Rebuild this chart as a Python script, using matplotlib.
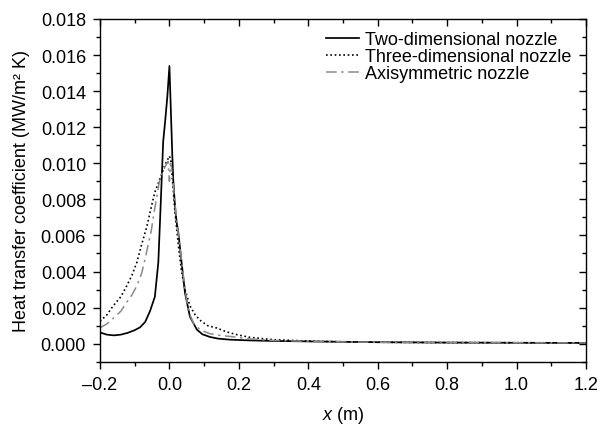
import matplotlib
matplotlib.use("Agg")
import matplotlib.pyplot as plt
from matplotlib.ticker import MultipleLocator, FuncFormatter

plt.rcParams['font.family'] = ['Liberation Sans', 'DejaVu Sans']
plt.rcParams['mathtext.fontset'] = 'custom'
plt.rcParams['mathtext.rm'] = 'Liberation Sans'
plt.rcParams['mathtext.it'] = 'Liberation Sans:italic'

# Two-dimensional nozzle
x_2d = [-0.2, -0.18, -0.16, -0.14, -0.12, -0.10, -0.085, -0.07, -0.056, -0.042,
        -0.032, -0.025, -0.018, -0.012, -0.006, 0.0, 0.004, 0.008, 0.011, 0.016,
        0.021, 0.026, 0.035, 0.045, 0.059, 0.079, 0.095, 0.117, 0.14, 0.175,
        0.232, 0.3, 0.42, 0.6, 0.8, 1.0, 1.2]
y_2d = [0.00062, 0.00050, 0.00046, 0.00050, 0.00060, 0.00075, 0.00090, 0.00120, 0.0018, 0.0026,
        0.0045, 0.0078, 0.0112, 0.0124, 0.0137, 0.0154, 0.0130, 0.0106, 0.0091, 0.0076,
        0.0067, 0.0061, 0.0045, 0.0028, 0.0015, 0.00078, 0.00052, 0.00037, 0.00028, 0.00022,
        0.00018, 0.00015, 0.00012, 0.00008, 0.00006, 0.00005, 0.00004]

# Three-dimensional nozzle
x_3d = [-0.2, -0.18, -0.162, -0.14, -0.123, -0.108, -0.094, -0.08, -0.065, -0.052,
        -0.042, -0.028, -0.013, 0.0, 0.004, 0.009, 0.016, 0.026, 0.035, 0.045,
        0.059, 0.074, 0.088, 0.11, 0.136, 0.165, 0.194, 0.232, 0.3, 0.42, 0.6, 0.8, 1.0, 1.2]
y_3d = [0.00124, 0.0016, 0.0021, 0.0026, 0.0032, 0.0038, 0.0045, 0.0055, 0.0065, 0.0076,
        0.0084, 0.0091, 0.0099, 0.0104, 0.0102, 0.0090, 0.0073, 0.0054, 0.0040, 0.0030,
        0.0021, 0.0016, 0.0013, 0.0010, 0.00087, 0.00065, 0.00050, 0.00035, 0.00022, 0.00013, 0.00008, 0.00006, 0.00005, 0.00004]

# Axisymmetric nozzle
x_ax = [-0.2, -0.18, -0.162, -0.14, -0.123, -0.108, -0.094, -0.08, -0.07, -0.061,
        -0.052, -0.044, -0.036, -0.028, -0.013, -0.004, 0.0, 0.003, 0.006, 0.011,
        0.016, 0.021, 0.026, 0.035, 0.045, 0.055, 0.07, 0.09, 0.117, 0.145, 0.175,
        0.232, 0.3, 0.42, 0.6, 0.8, 1.0, 1.2]
y_ax = [0.00088, 0.0011, 0.0014, 0.0018, 0.0023, 0.0027, 0.0032, 0.0039, 0.0047, 0.0055,
        0.0063, 0.0073, 0.0082, 0.0091, 0.0098, 0.0101, 0.0090, 0.0100, 0.0098, 0.0088,
        0.0078, 0.0068, 0.0060, 0.0046, 0.0030, 0.0018, 0.0011, 0.00075, 0.00055, 0.00046, 0.00040,
        0.00026, 0.00018, 0.00012, 0.00008, 0.00006, 0.00005, 0.00004]

labels = ["Two-dimensional nozzle", "Three-dimensional nozzle", "Axisymmetric nozzle"]

fig = plt.figure(figsize=(6.03, 4.27), dpi=100)
ax = fig.add_axes([100/603, 1 - 362.7/427, 486/603, 342.7/427])

ax.plot(x_2d, y_2d, color='black', lw=1.25, ls='-', label=labels[0])
ax.plot(x_3d, y_3d, color='black', lw=1.2, ls=(0, (1, 1.6)), label=labels[1])
ax.plot(x_ax, y_ax, color='#8a8a8a', lw=1.1, ls=(0, (7, 3, 1.5, 3)), label=labels[2])

ax.set_xlim(-0.2, 1.2)
ax.set_ylim(-0.001, 0.018)
ax.xaxis.set_major_locator(MultipleLocator(0.2))
ax.xaxis.set_minor_locator(MultipleLocator(0.1))
ax.yaxis.set_major_locator(MultipleLocator(0.002))
ax.yaxis.set_minor_locator(MultipleLocator(0.001))


def fmt_x(v, pos):
    s = f"{v:.1f}"
    if s == "-0.0":
        s = "0.0"
    return s.replace("-", "\u2013")


def fmt_y(v, pos):
    s = f"{v:.3f}"
    if s == "-0.000":
        s = "0.000"
    return s.replace("-", "\u2013")


ax.xaxis.set_major_formatter(FuncFormatter(fmt_x))
ax.yaxis.set_major_formatter(FuncFormatter(fmt_y))

ax.tick_params(axis='both', which='major', direction='out', length=5, width=1,
               labelsize=13, pad=5)
ax.tick_params(axis='both', which='minor', direction='out', length=3, width=1)
ax.tick_params(top=True, right=True, which='both')
for t in ax.xaxis.get_major_ticks() + ax.xaxis.get_minor_ticks():
    t.tick2line.set_marker(3)  # pointing down (inward) at top
for t in ax.yaxis.get_major_ticks() + ax.yaxis.get_minor_ticks():
    t.tick2line.set_marker(0)  # pointing left (inward) at right

for s in ax.spines.values():
    s.set_linewidth(1)

ax.set_xlabel(r"$x$ (m)", fontsize=13, labelpad=8)
ax.set_ylabel("Heat transfer coefficient (MW/m² K)", fontsize=13, labelpad=8)

leg = ax.legend(loc='upper left', bbox_to_anchor=((326 - 100) / 486, (362.7 - 32) / 342.7),
                frameon=False, fontsize=13, handlelength=1.8, handletextpad=0.35,
                labelspacing=0.0, borderpad=0, borderaxespad=0)

fig.savefig("out.png", dpi=100)
